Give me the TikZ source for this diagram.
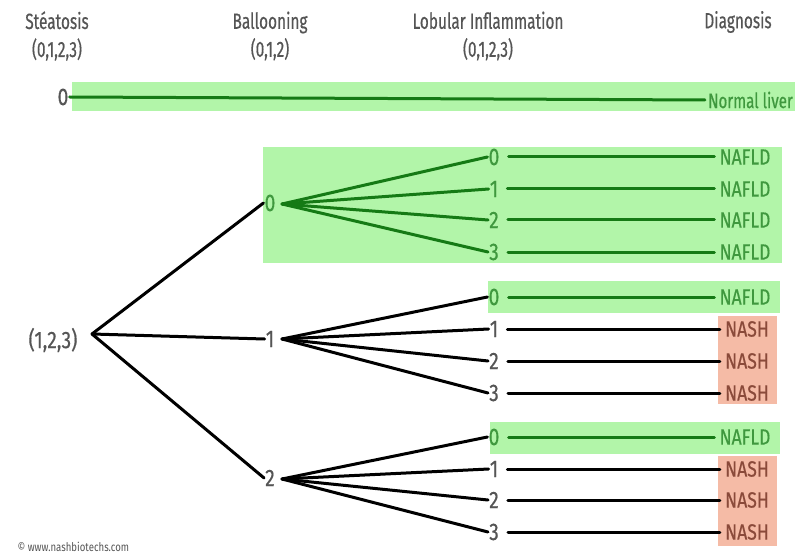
\documentclass[tikz,border=0pt]{standalone}
\usepackage{fontspec}
\newfontfamily\cf[FakeStretch=0.7,FakeBold=0.5]{Fira Sans}
\newfontfamily\cfd[FakeStretch=0.8,FakeBold=0.5]{Fira Sans}
\newfontfamily\cfn[FakeStretch=0.72,FakeBold=0.5]{Fira Sans}
\newfontfamily\cfs[FakeStretch=0.8]{Fira Sans}
\definecolor{bandgreen}{HTML}{B2F5A9}
\definecolor{linegreen}{HTML}{157A15}
\definecolor{txtgreen}{HTML}{3F983E}
\definecolor{nashbox}{HTML}{F5BBA6}
\definecolor{nashtxt}{HTML}{8A4A3A}
\definecolor{graytxt}{HTML}{555555}
\tikzset{
  hdr/.style={font=\cf\fontsize{22}{28}\selectfont, text=graytxt, align=center},
  num/.style={font=\cfd\fontsize{24}{26}\selectfont, text=graytxt, inner sep=1pt},
  gnum/.style={font=\cfd\fontsize{24}{26}\selectfont, text=txtgreen, inner sep=1pt},
  dxg/.style={font=\cfd\fontsize{22}{24}\selectfont, text=txtgreen, inner sep=1pt},
  dxn/.style={font=\cfd\fontsize{22}{24}\selectfont, text=nashtxt, inner sep=1pt},
  blk/.style={draw=black, line width=3pt, line cap=round},
  grn/.style={draw=linegreen, line width=3pt, line cap=round},
}
\begin{document}
\begin{tikzpicture}[x=1pt,y=-1pt]
\useasboundingbox (0,0) rectangle (795,556);
% backgrounds
\fill[bandgreen] (72,82) rectangle (795,111);
\fill[bandgreen] (263,147) rectangle (782,263);
\fill[bandgreen] (488,281) rectangle (780,313);
\fill[bandgreen] (490,422) rectangle (780,454);
\fill[nashbox] (718,316) rectangle (777,404);
\fill[nashbox] (718,456) rectangle (777,546);
% headers
\node[hdr] (hs) at (57,36) {Stéatosis\\(0,1,2,3)};
\node[hdr] (hb) at (270,36) {Ballooning\\(0,1,2)};
\node[hdr] (hl) at (488,36) {Lobular Inflammation\\(0,1,2,3)};
\node[hdr] (hd) at (738,22) {Diagnosis};
% row 0
\node[num] (s0) at (63,97) {0};
\node[dxg, font=\cfn\fontsize{21}{24}\selectfont, anchor=east] (nl) at (794,100) {Normal liver};
% root
\node[num] (root) at (53,340) {(1,2,3)};
\coordinate (rp) at (92,334);
% ballooning
\node[gnum] (b0) at (270,203) {0};
\coordinate (b0p) at (282,204);
\node[num] (b1) at (270,339) {1};
\coordinate (b1p) at (282,339);
\node[num] (b2) at (270,478) {2};
\coordinate (b2p) at (282,479);
% lobular group 0
\node[gnum] (a0) at (494,157) {0};
\node[gnum] (a1) at (494,189) {1};
\node[gnum] (a2) at (494,220) {2};
\node[gnum] (a3) at (494,252) {3};
\node[dxg] (da0) at (745,157) {NAFLD};
\node[dxg] (da1) at (745,189) {NAFLD};
\node[dxg] (da2) at (745,220) {NAFLD};
\node[dxg] (da3) at (745,252) {NAFLD};
% lobular group 1
\node[gnum] (c0) at (494,297) {0};
\node[num] (c1) at (494,329) {1};
\node[num] (c2) at (494,361) {2};
\node[num] (c3) at (494,393) {3};
\node[dxg] (dc0) at (745,297) {NAFLD};
\node[dxn] (dc1) at (747,329) {NASH};
\node[dxn] (dc2) at (747,361) {NASH};
\node[dxn] (dc3) at (747,393) {NASH};
% lobular group 2
\node[gnum] (e0) at (494,437) {0};
\node[num] (e1) at (494,469) {1};
\node[num] (e2) at (494,500) {2};
\node[num] (e3) at (494,532) {3};
\node[dxg] (de0) at (745,437) {NAFLD};
\node[dxn] (de1) at (747,469) {NASH};
\node[dxn] (de2) at (747,500) {NASH};
\node[dxn] (de3) at (747,532) {NASH};
% copyright
\node[font=\cfs\fontsize{12}{14}\selectfont, text=graytxt, anchor=west] (cp) at (14,547) {\textcopyright{} www.nashbiotechs.com};
% lines
\draw[grn] (s0.east) -- ([xshift=-2pt]nl.west);
\draw[blk] (rp) -- (b0.west);
\draw[blk] (rp) -- (b1.west);
\draw[blk] (rp) -- (b2.west);
\foreach \n in {a0,a1,a2,a3} { \draw[grn] (b0p) -- (\n.west); }
\foreach \n in {c0,c1,c2,c3} { \draw[blk] (b1p) -- (\n.west); }
\foreach \n in {e0,e1,e2,e3} { \draw[blk] (b2p) -- (\n.west); }
\foreach \n in {a0,a1,a2,a3} { \draw[grn] ([xshift=8pt]\n.east) -- ([xshift=-4pt]d\n.west); }
\draw[grn] ([xshift=8pt]c0.east) -- ([xshift=-4pt]dc0.west);
\draw[grn] ([xshift=8pt]e0.east) -- ([xshift=-4pt]de0.west);
\foreach \n in {c1,c2,c3,e1,e2,e3} { \draw[blk] ([xshift=8pt]\n.east) -- ([xshift=-4pt]d\n.west); }
\end{tikzpicture}
\end{document}
